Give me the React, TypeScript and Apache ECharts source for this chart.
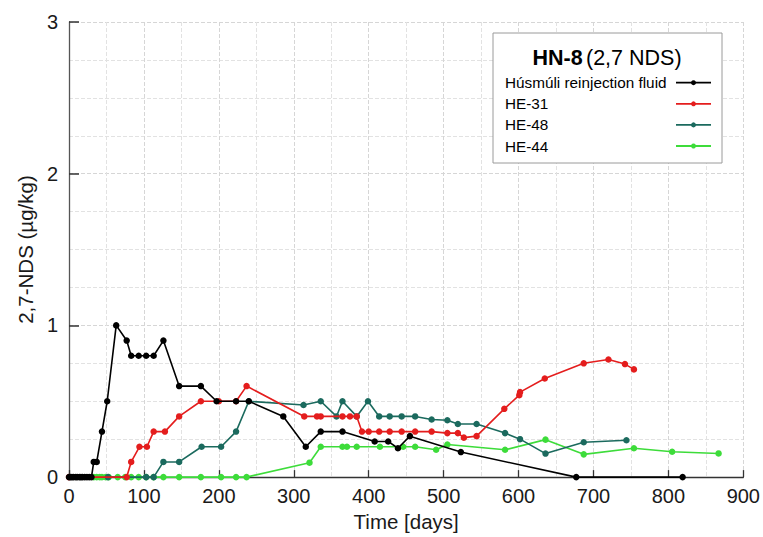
import React, { useEffect, useRef } from "react";
import * as echarts from "echarts";

const seriesNames = ["Húsmúli reinjection fluid", "HE-31", "HE-48", "HE-44"];
const seriesColors = ["#000000", "#e41d1d", "#1b6a5e", "#3ddc3a"];

const blackDays = [0, 2, 4, 6, 9, 11, 14, 16, 18, 21, 24, 27, 30, 33, 37, 44, 51, 63, 77, 83, 93, 103, 113, 126, 147, 176, 197, 223, 240, 286, 316, 336, 365, 408, 426, 439, 455, 523, 677, 819];
const blackVals = [0, 0, 0, 0, 0, 0, 0, 0, 0, 0, 0, 0, 0, 0.1, 0.1, 0.3, 0.5, 1.0, 0.9, 0.8, 0.8, 0.8, 0.8, 0.9, 0.6, 0.6, 0.5, 0.5, 0.5, 0.4, 0.2, 0.3, 0.3, 0.235, 0.235, 0.19, 0.27, 0.165, 0, 0];

const redDays = [0, 77, 83, 94, 104, 113, 128, 147, 176, 200, 223, 237, 314, 331, 336, 365, 375, 384, 391, 400, 414, 428, 444, 462, 484, 505, 519, 527, 544, 581, 601, 602, 635, 687, 720, 742, 754];
const redVals = [0, 0, 0.1, 0.2, 0.2, 0.3, 0.3, 0.4, 0.5, 0.5, 0.5, 0.6, 0.4, 0.4, 0.4, 0.4, 0.4, 0.4, 0.3, 0.3, 0.3, 0.3, 0.3, 0.3, 0.3, 0.29, 0.29, 0.26, 0.27, 0.45, 0.54, 0.56, 0.65, 0.75, 0.775, 0.745, 0.71];

const tealDays = [52, 103, 113, 126, 147, 177, 203, 223, 240, 313, 336, 357, 365, 384, 399, 414, 428, 444, 462, 484, 505, 519, 544, 582, 602, 636, 687, 744];
const tealVals = [0, 0, 0, 0.1, 0.1, 0.2, 0.2, 0.3, 0.5, 0.475, 0.5, 0.4, 0.5, 0.4, 0.5, 0.4, 0.4, 0.4, 0.4, 0.38, 0.375, 0.35, 0.35, 0.29, 0.25, 0.155, 0.23, 0.243];

const greenDays = [33, 37, 41, 44, 49, 53, 65, 75, 83, 93, 103, 113, 126, 147, 176, 203, 223, 237, 321, 336, 365, 371, 384, 415, 446, 462, 490, 505, 582, 636, 687, 754, 805, 867];
const greenVals = [0, 0, 0, 0, 0, 0, 0, 0, 0, 0, 0, 0, 0, 0, 0, 0, 0, 0, 0.095, 0.2, 0.2, 0.2, 0.2, 0.2, 0.2, 0.2, 0.18, 0.215, 0.18, 0.247, 0.15, 0.19, 0.167, 0.156];

const allDays = [blackDays, redDays, tealDays, greenDays];
const allVals = [blackVals, redVals, tealVals, greenVals];

const xTicks = { min: 0, max: 900, interval: 100 };
const yTicks = { min: 0, max: 3, interval: 1 };

const FONT = "'Liberation Sans', Arial, sans-serif";

export default function App() {
  const ref = useRef<HTMLDivElement>(null);
  useEffect(() => {
    if (!ref.current) return;
    const chart = echarts.init(ref.current, null, { renderer: "svg" });

    const series = seriesNames.map((name, i) => ({
      name,
      type: "line",
      data: allDays[i].map((d, j) => [d, allVals[i][j]]),
      symbol: "circle",
      symbolSize: 6.5,
      showSymbol: true,
      lineStyle: { color: seriesColors[i], width: 1.6 },
      itemStyle: { color: seriesColors[i] },
      z: 10 - i,
    }));

    // legend graphic
    const lx = 493, ly = 33, lw = 229, lh = 130;
    const legendEls: any[] = [
      {
        type: "rect",
        shape: { x: lx, y: ly, width: lw, height: lh },
        style: { fill: "#ffffff", stroke: "#9a9a9a", lineWidth: 1 },
        z: 100,
      },
      {
        type: "text",
        x: 607,
        y: 58,
        style: {
          text: "{b|HN-8} {n|(2,7 NDS)}",
          align: "center",
          verticalAlign: "middle",
          rich: {
            b: { fontSize: 21.5, fontWeight: "bold", fontFamily: FONT, fill: "#000" },
            n: { fontSize: 21.5, fontFamily: FONT, fill: "#000" },
          },
        },
        z: 101,
      },
    ];
    seriesNames.forEach((name, i) => {
      const yy = 82.7 + i * 21.1;
      legendEls.push({
        type: "text",
        x: 505,
        y: yy,
        style: {
          text: name,
          fontSize: 15.3,
          fontFamily: FONT,
          fill: "#000",
          align: "left",
          verticalAlign: "middle",
        },
        z: 101,
      });
      legendEls.push({
        type: "line",
        shape: { x1: 676, y1: yy, x2: 711, y2: yy },
        style: { stroke: seriesColors[i], lineWidth: 1.8 },
        z: 101,
      });
      legendEls.push({
        type: "circle",
        shape: { cx: 693.5, cy: yy, r: 2.5 },
        style: { fill: seriesColors[i] },
        z: 102,
      });
    });

    chart.setOption({
      animation: false,
      backgroundColor: "#ffffff",
      grid: { left: 69, right: 19, top: 22, bottom: 54, containLabel: false },
      xAxis: {
        type: "value",
        min: xTicks.min,
        max: xTicks.max,
        interval: xTicks.interval,
        name: "Time [days]",
        nameLocation: "middle",
        nameGap: 30,
        nameTextStyle: { fontSize: 20.5, fontFamily: FONT, color: "#1a1a1a" },
        axisLine: { show: true, onZero: false, lineStyle: { color: "#333", width: 1.3 } },
        axisTick: { show: true, inside: true, length: 7, lineStyle: { color: "#333", width: 1.3 } },
        axisLabel: { fontSize: 20, fontFamily: FONT, color: "#1a1a1a", margin: 9 },
        splitLine: { show: true, lineStyle: { color: "#d6d6d6", type: "dashed", width: 1 } },
        minorTick: { show: false, splitNumber: 2 },
        minorSplitLine: { show: true, lineStyle: { color: "#e2e2e2", type: "dashed", width: 1 } },
      },
      yAxis: {
        type: "value",
        min: yTicks.min,
        max: yTicks.max,
        interval: yTicks.interval,
        name: "2,7-NDS (µg/kg)",
        nameLocation: "middle",
        nameGap: 32,
        nameRotate: 90,
        nameTextStyle: { fontSize: 20.5, fontFamily: FONT, color: "#1a1a1a" },
        axisLine: { show: true, onZero: false, lineStyle: { color: "#555", width: 1.3 } },
        axisTick: { show: true, inside: true, length: 10, lineStyle: { color: "#333", width: 1.5 } },
        axisLabel: { fontSize: 20, fontFamily: FONT, color: "#1a1a1a", margin: 11 },
        splitLine: { show: true, lineStyle: { color: "#d6d6d6", type: "dashed", width: 1 } },
        minorTick: { show: false, splitNumber: 4 },
        minorSplitLine: { show: true, lineStyle: { color: "#e2e2e2", type: "dashed", width: 1 } },
      },
      series,
      graphic: legendEls,
    } as any);

    return () => chart.dispose();
  }, []);

  return (
    <div
      ref={ref}
      style={{ position: "absolute", left: 0, top: 0, width: 763, height: 537 }}
    />
  );
}
